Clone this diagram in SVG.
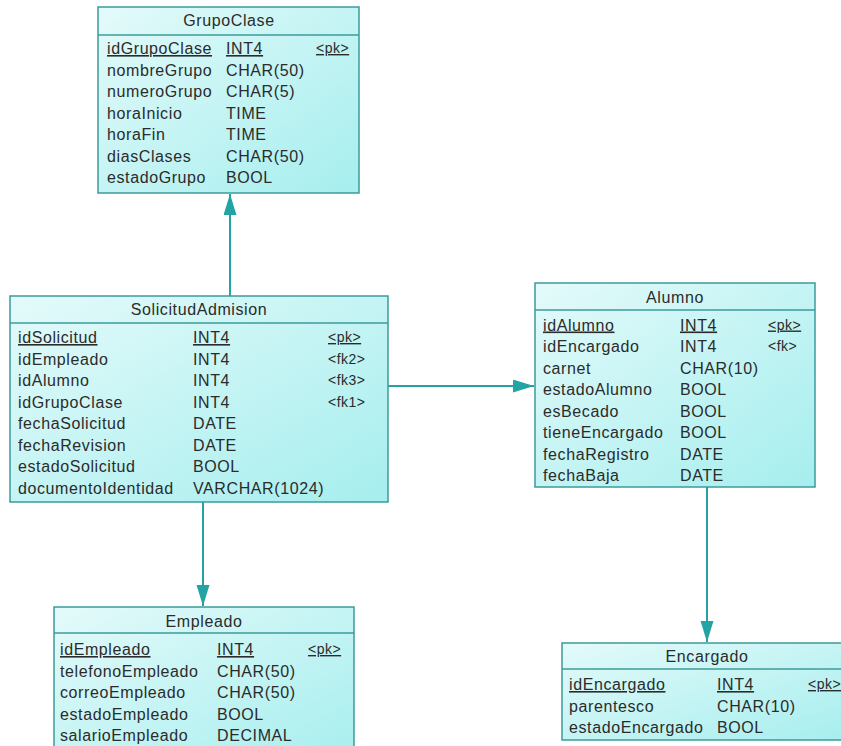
<svg xmlns="http://www.w3.org/2000/svg" width="841" height="746" viewBox="0 0 841 746">
<defs>
<linearGradient id="g" x1="0" y1="0" x2="1" y2="1">
<stop offset="0" stop-color="#e4fafa"/>
<stop offset="1" stop-color="#a6eeee"/>
</linearGradient>
<marker id="arr" markerUnits="userSpaceOnUse" markerWidth="22" markerHeight="14" refX="21" refY="6.5" orient="auto">
<path d="M0,0 L21,6.5 L0,13 Z" fill="#23a3a3"/>
</marker>
<style>
.box{fill:url(#g);stroke:#3c9b9b;stroke-width:1.5}
.sep{stroke:#3c9b9b;stroke-width:1.5}
text{font-family:"Liberation Sans",Arial,sans-serif;font-size:16px;letter-spacing:0.6px;fill:#2b2b2b}
.ti{text-anchor:middle}
.k{font-size:14px;letter-spacing:0.5px}
.u{text-decoration:underline}
.c{stroke:#23a3a3;stroke-width:2;fill:none}
</style>
</defs>
<rect width="841" height="746" fill="#ffffff"/>

<g id="connectors">
<line class="c" x1="230" y1="296" x2="230" y2="194" marker-end="url(#arr)"/>
<line class="c" x1="388" y1="386" x2="534" y2="386" marker-end="url(#arr)"/>
<line class="c" x1="203" y1="502" x2="203" y2="606" marker-end="url(#arr)"/>
<line class="c" x1="707" y1="487" x2="707" y2="642" marker-end="url(#arr)"/>
</g>

<g id="GrupoClase">
<rect class="box" x="98" y="7" width="261" height="186"/>
<line class="sep" x1="98" y1="35" x2="359" y2="35"/>
<text class="ti" x="229" y="26">GrupoClase</text>
<text x="107" y="54" class="u">idGrupoClase</text><text x="226" y="54" class="u">INT4</text><text x="316" y="53" class="k u">&lt;pk&gt;</text>
<text x="107" y="75.5">nombreGrupo</text><text x="226" y="75.5">CHAR(50)</text>
<text x="107" y="97">numeroGrupo</text><text x="226" y="97">CHAR(5)</text>
<text x="107" y="118.5">horaInicio</text><text x="226" y="118.5">TIME</text>
<text x="107" y="140">horaFin</text><text x="226" y="140">TIME</text>
<text x="107" y="161.5">diasClases</text><text x="226" y="161.5">CHAR(50)</text>
<text x="107" y="183">estadoGrupo</text><text x="226" y="183">BOOL</text>
</g>

<g id="SolicitudAdmision">
<rect class="box" x="10" y="296" width="378" height="206"/>
<line class="sep" x1="10" y1="323" x2="388" y2="323"/>
<text class="ti" x="199" y="315">SolicitudAdmision</text>
<text x="18" y="343" class="u">idSolicitud</text><text x="193" y="343" class="u">INT4</text><text x="328" y="342" class="k u">&lt;pk&gt;</text>
<text x="18" y="364.5">idEmpleado</text><text x="193" y="364.5">INT4</text><text x="328" y="363.5" class="k">&lt;fk2&gt;</text>
<text x="18" y="386">idAlumno</text><text x="193" y="386">INT4</text><text x="328" y="385" class="k">&lt;fk3&gt;</text>
<text x="18" y="407.5">idGrupoClase</text><text x="193" y="407.5">INT4</text><text x="328" y="406.5" class="k">&lt;fk1&gt;</text>
<text x="18" y="429">fechaSolicitud</text><text x="193" y="429">DATE</text>
<text x="18" y="450.5">fechaRevision</text><text x="193" y="450.5">DATE</text>
<text x="18" y="472">estadoSolicitud</text><text x="193" y="472">BOOL</text>
<text x="18" y="493.5">documentoIdentidad</text><text x="193" y="493.5">VARCHAR(1024)</text>
</g>

<g id="Alumno">
<rect class="box" x="535" y="283" width="280" height="204"/>
<line class="sep" x1="535" y1="310" x2="815" y2="310"/>
<text class="ti" x="675" y="303">Alumno</text>
<text x="543" y="330.5" class="u">idAlumno</text><text x="680" y="330.5" class="u">INT4</text><text x="768" y="329.5" class="k u">&lt;pk&gt;</text>
<text x="543" y="352">idEncargado</text><text x="680" y="352">INT4</text><text x="768" y="351" class="k">&lt;fk&gt;</text>
<text x="543" y="373.5">carnet</text><text x="680" y="373.5">CHAR(10)</text>
<text x="543" y="395">estadoAlumno</text><text x="680" y="395">BOOL</text>
<text x="543" y="416.5">esBecado</text><text x="680" y="416.5">BOOL</text>
<text x="543" y="438">tieneEncargado</text><text x="680" y="438">BOOL</text>
<text x="543" y="459.5">fechaRegistro</text><text x="680" y="459.5">DATE</text>
<text x="543" y="481">fechaBaja</text><text x="680" y="481">DATE</text>
</g>

<g id="Empleado">
<rect class="box" x="54" y="607" width="300" height="160"/>
<line class="sep" x1="54" y1="633" x2="354" y2="633"/>
<text class="ti" x="204" y="627">Empleado</text>
<text x="60" y="655" class="u">idEmpleado</text><text x="217" y="655" class="u">INT4</text><text x="308" y="654" class="k u">&lt;pk&gt;</text>
<text x="60" y="676.5">telefonoEmpleado</text><text x="217" y="676.5">CHAR(50)</text>
<text x="60" y="698">correoEmpleado</text><text x="217" y="698">CHAR(50)</text>
<text x="60" y="719.5">estadoEmpleado</text><text x="217" y="719.5">BOOL</text>
<text x="60" y="741">salarioEmpleado</text><text x="217" y="741">DECIMAL</text>
</g>

<g id="Encargado">
<rect class="box" x="562" y="643" width="292" height="97"/>
<line class="sep" x1="562" y1="669" x2="854" y2="669"/>
<text class="ti" x="707" y="662">Encargado</text>
<text x="569" y="690" class="u">idEncargado</text><text x="717" y="690" class="u">INT4</text><text x="808" y="689" class="k u">&lt;pk&gt;</text>
<text x="569" y="711.5">parentesco</text><text x="717" y="711.5">CHAR(10)</text>
<text x="569" y="733">estadoEncargado</text><text x="717" y="733">BOOL</text>
</g>
</svg>
